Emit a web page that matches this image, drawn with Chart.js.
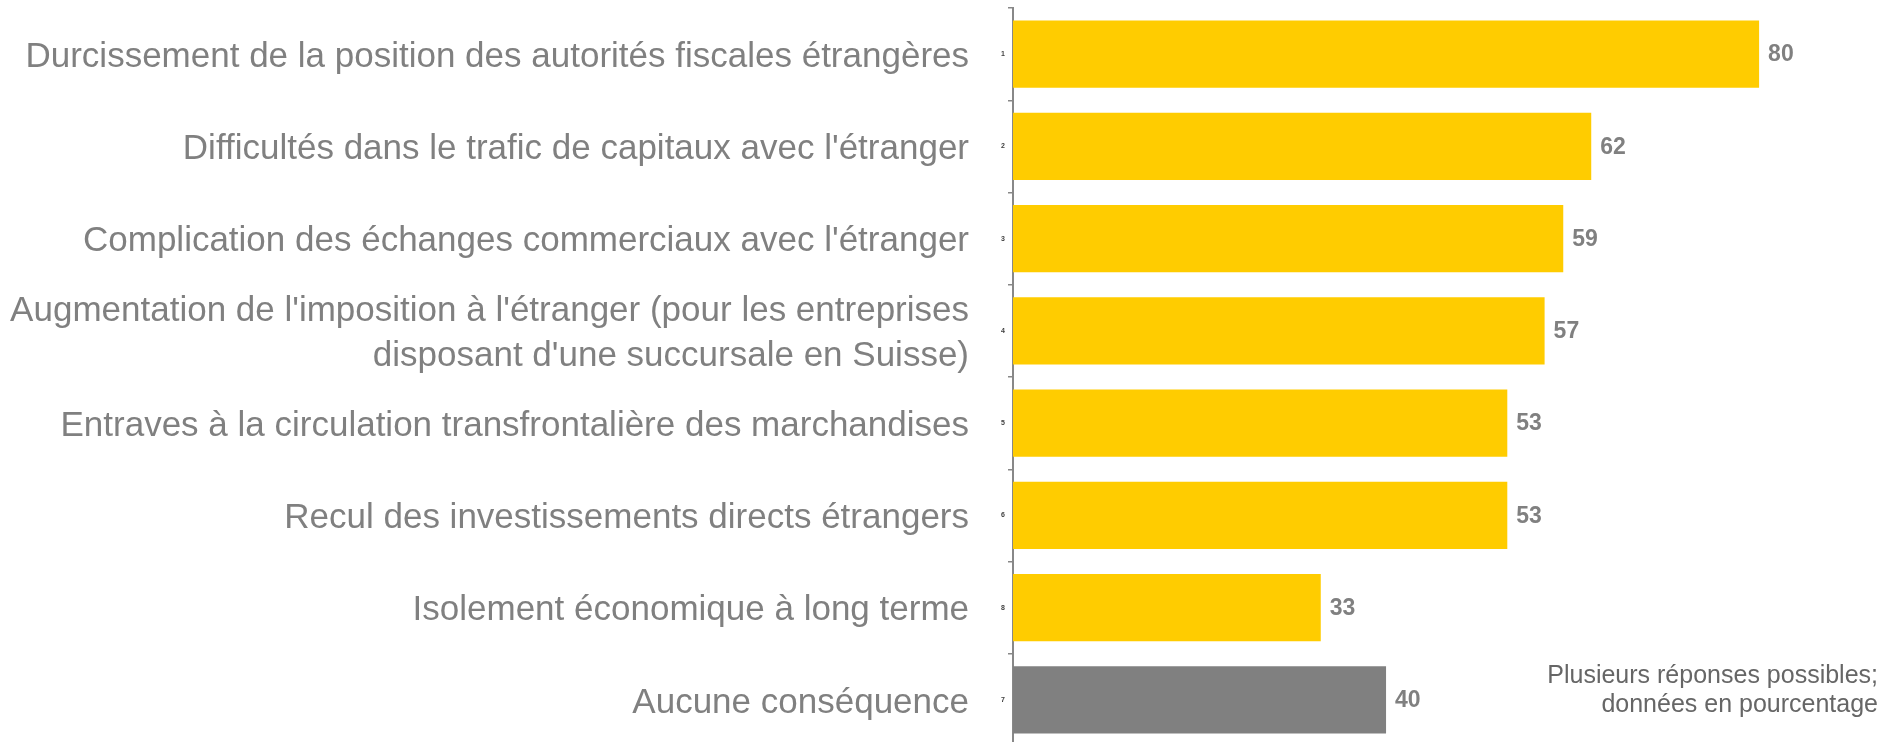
<!DOCTYPE html>
<html>
<head>
<meta charset="utf-8">
<script src="https://cdn.jsdelivr.net/npm/chart.js@4/dist/chart.umd.min.js"></script>
<style>
  html, body { margin: 0; padding: 0; overflow: hidden; background: #ffffff; }
  #wrap { width: 1902px; height: 746px; }
</style>
</head>
<body>
<div id="wrap"><canvas id="c" width="1902" height="746"></canvas></div>
<script>
const categories = [
  "Durcissement de la position des autorités fiscales étrangères",
  "Difficultés dans le trafic de capitaux avec l'étranger",
  "Complication des échanges commerciaux avec l'étranger",
  ["Augmentation de l'imposition à l'étranger (pour les entreprises", "disposant d'une succursale en Suisse)"],
  "Entraves à la circulation transfrontalière des marchandises",
  "Recul des investissements directs étrangers",
  "Isolement économique à long terme",
  "Aucune conséquence"
];
const codes = ["1", "2", "3", "4", "5", "6", "8", "7"];
const values = [80, 62, 59, 57, 53, 53, 33, 40];
const barColors = ["#FFCC00", "#FFCC00", "#FFCC00", "#FFCC00", "#FFCC00", "#FFCC00", "#FFCC00", "#808080"];
const noteLines = ["Plusieurs réponses possibles;", "données en pourcentage"];

const FONT = "'Liberation Sans', Arial, Helvetica, sans-serif";

const valueLabels = {
  id: 'valueLabels',
  afterDatasetsDraw(chart) {
    const ctx = chart.ctx;
    const meta = chart.getDatasetMeta(0);
    ctx.save();
    ctx.font = "bold 23px " + FONT;
    ctx.fillStyle = "#808080";
    ctx.textAlign = "left";
    ctx.textBaseline = "middle";
    meta.data.forEach((bar, i) => {
      ctx.fillText(String(chart.data.datasets[0].data[i]), bar.x + 9, bar.y + 1);
    });
    ctx.restore();
  }
};

const notePlugin = {
  id: 'notePlugin',
  afterDraw(chart) {
    const ctx = chart.ctx;
    ctx.save();
    ctx.font = "25px " + FONT;
    ctx.fillStyle = "#666666";
    ctx.textAlign = "right";
    ctx.textBaseline = "middle";
    noteLines.forEach((t, i) => ctx.fillText(t, 1878, 676 + i * 29));
    ctx.restore();
  }
};

function fixPadding(scale, w) {
  scale.width = w;
  scale.paddingTop = 0;
  scale.paddingBottom = 0;
}

new Chart(document.getElementById('c'), {
  type: 'bar',
  data: {
    labels: codes,
    datasets: [{
      data: values,
      backgroundColor: barColors,
      borderWidth: 0,
      categoryPercentage: 1,
      barPercentage: 0.727
    }]
  },
  options: {
    indexAxis: 'y',
    responsive: false,
    animation: false,
    devicePixelRatio: 1,
    layout: { padding: { top: 8, right: 3, bottom: 0, left: 0 } },
    plugins: { legend: { display: false }, tooltip: { enabled: false } },
    scales: {
      x: { display: false, min: 0, max: 95 },
      y: {
        type: 'category',
        position: 'left',
        weight: 0,
        offset: true,
        grid: { display: true, drawOnChartArea: false, drawTicks: true, tickLength: 5, offset: true, color: '#888888', lineWidth: 1.5 },
        border: { display: true, color: '#888888', width: 2 },
        ticks: { autoSkip: false, padding: 3, font: { family: FONT, size: 7, weight: 'bold' }, color: '#404040' },
        afterFit(scale) { fixPadding(scale, 44); }
      },
      y2: {
        type: 'category',
        position: 'left',
        weight: 1,
        offset: true,
        labels: categories,
        grid: { display: false, drawTicks: false },
        border: { display: false },
        ticks: { autoSkip: false, padding: 0, labelOffset: 3, font: { family: FONT, size: 35, lineHeight: 1.29 }, color: '#808080' },
        afterFit(scale) { fixPadding(scale, 969); }
      }
    }
  },
  plugins: [valueLabels, notePlugin]
});
</script>
</body>
</html>
